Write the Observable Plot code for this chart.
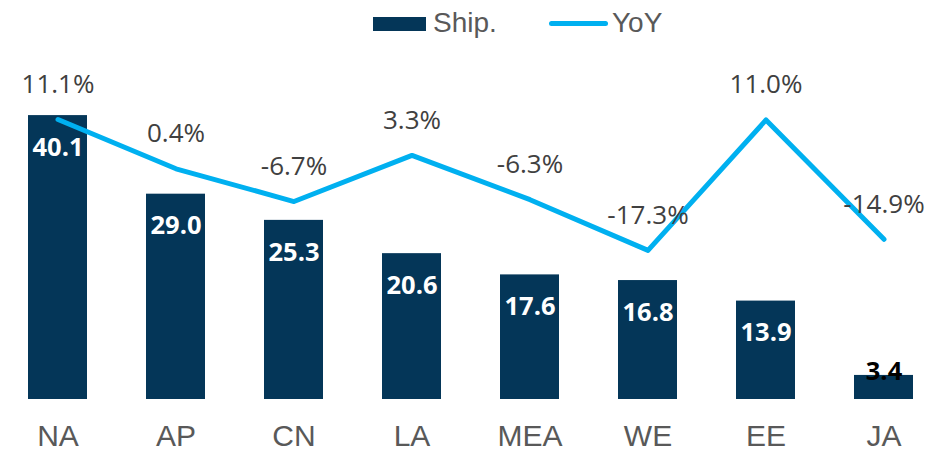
<!DOCTYPE html>
<html>
<head>
<meta charset="utf-8">
<script src="https://cdn.jsdelivr.net/npm/d3@7"></script>
<script src="https://cdn.jsdelivr.net/npm/@observablehq/plot@0.6"></script>
<style>
  html, body { margin: 0; padding: 0; background: #fff; }
  #wrap { width: 949px; height: 460px; position: relative; overflow: hidden; }
  #legend { position: relative; width: 949px; height: 45px; font-family: "Liberation Sans", Arial, sans-serif; font-size: 28px; color: #595959; }
  .sw { position: absolute; }
  .lt { position: absolute; line-height: 1; }
  #chart svg { display: block; }
</style>
</head>
<body>
<div id="wrap">
  <div id="legend">
    <div class="sw" style="left:373px; top:17px; width:53px; height:14px; background:#043658;"></div>
    <div class="lt" style="left:433px; top:9px;">Ship.</div>
    <div class="sw" style="left:549px; top:20.5px; width:59px; height:5px; border-radius:3px; background:#00B0F0;"></div>
    <div class="lt" style="left:612px; top:9px;">YoY</div>
  </div>
  <div id="chart"></div>
</div>
<script>
const regions = ["NA", "AP", "CN", "LA", "MEA", "WE", "EE", "JA"];
const shipments = [40.1, 29.0, 25.3, 20.6, 17.6, 16.8, 13.9, 3.4];
const yoy = [11.1, 0.4, -6.7, 3.3, -6.3, -17.3, 11.0, -14.9];

// secondary axis for YoY (%), mapped onto the primary (shipment) axis units
const y2 = d3.scaleLinear().domain([-20, 15]).range([19.30, 42.09]);

const data = regions.map((r, i) => ({region: r, ship: shipments[i], yoy: yoy[i], yoyU: y2(yoy[i])}));
const mainBars = data.filter(d => d.ship >= 8);
const smallBars = data.filter(d => d.ship < 8);

const chart = Plot.plot({
  width: 949,
  height: 415,
  marginTop: 0, marginBottom: 61, marginLeft: 0, marginRight: 0,
  style: {background: "transparent", overflow: "visible"},
  x: {domain: regions, range: [-4, 945], paddingInner: 0.5, paddingOuter: 0.25, axis: null},
  y: {domain: [0, 50], range: [354, 0], axis: null},
  marks: [
    Plot.ruleY([0], {stroke: "#d9d9d9", strokeWidth: 1.6, dy: 1.2, x1: -10, x2: 945}),
    Plot.barY(data, {x: "region", y: "ship", fill: "#043658"}),
    Plot.text(mainBars, {x: "region", y: "ship", text: d => d.ship.toFixed(1), dy: 32, fill: "#ffffff",
      fontSize: 25.5, fontWeight: "bold", fontFamily: "'Open Sans', sans-serif", lineAnchor: "middle"}),
    Plot.text(smallBars, {x: "region", y: "ship", text: d => d.ship.toFixed(1), dy: -4, fill: "#000000",
      fontSize: 25.5, fontWeight: "bold", fontFamily: "'Open Sans', sans-serif", lineAnchor: "middle"}),
    Plot.line(data, {x: "region", y: "yoyU", stroke: "#00B0F0", strokeWidth: 5,
      strokeLinejoin: "round", strokeLinecap: "round"}),
    Plot.text(data, {x: "region", y: "yoyU", text: d => d.yoy.toFixed(1) + "%", dy: -35, fill: "#404040",
      fontSize: 26, fontFamily: "'Open Sans', sans-serif", lineAnchor: "middle"}),
    Plot.text(data, {x: "region", y: 0, text: "region", dy: 37, fill: "#595959",
      fontSize: 30, fontFamily: "'Liberation Sans', Arial, sans-serif", lineAnchor: "middle"})
  ]
});
document.getElementById("chart").appendChild(chart);
</script>
</body>
</html>
